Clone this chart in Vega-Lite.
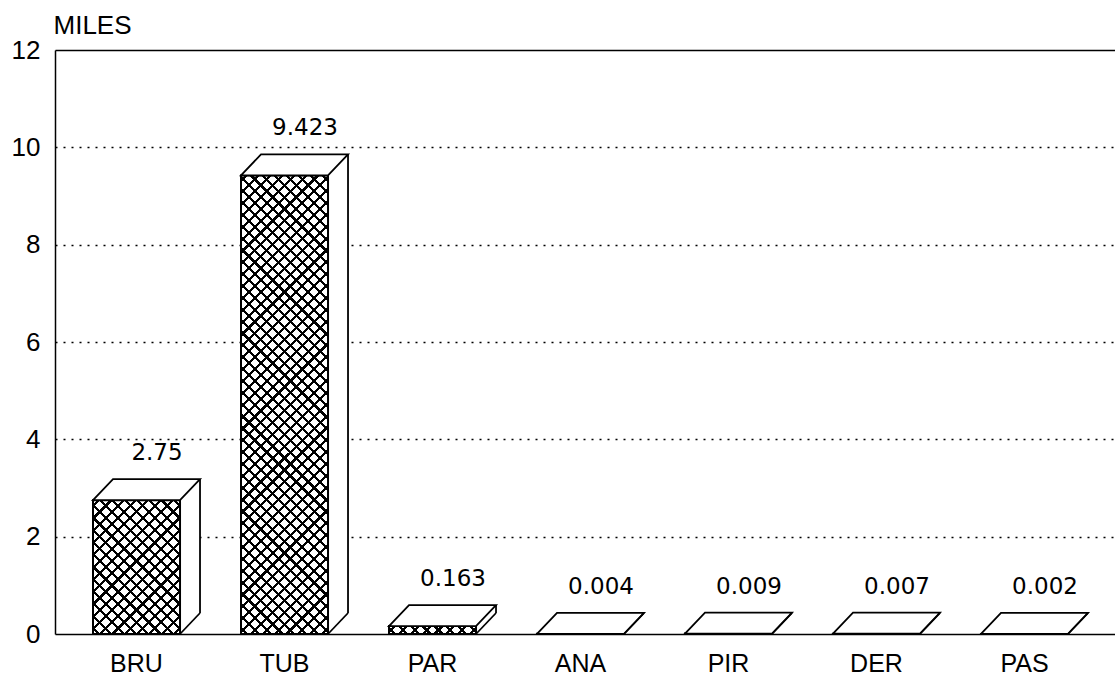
{
"$schema": "https://vega.github.io/schema/vega-lite/v6.json",
"width": 1060, "height": 584,
"autosize": {"type": "none"},
"padding": {"left": 55, "top": 50, "right": 0, "bottom": 45},
"background": "white",
"config": {"view": {"stroke": null}},
"data": {"values": [
{"cat": "BRU", "value": 2.75},
{"cat": "TUB", "value": 9.423},
{"cat": "PAR", "value": 0.163},
{"cat": "ANA", "value": 0.004},
{"cat": "PIR", "value": 0.009},
{"cat": "DER", "value": 0.007},
{"cat": "PAS", "value": 0.002}
]},
"encoding": {
"x": {"field": "cat", "type": "nominal", "title": null,
 "scale": {"domain": ["BRU","TUB","PAR","ANA","PIR","DER","PAS"], "paddingInner": 0.412, "paddingOuter": 0.2871, "align": 0.4472, "round": false},
 "axis": {"title": null, "labelFont": "Liberation Sans", "labelFontSize": 25, "labelColor": "black", "labelPadding": 37, "labelBaseline": "alphabetic", "ticks": false, "domain": false, "labelAngle": 0}},
"y": {"field": "value", "type": "quantitative",
 "scale": {"domain": [0, 12], "nice": false, "zero": true},
 "axis": {"values": [0,2,4,6,8,10,12], "title": "MILES", "titleAngle": 0, "titleAlign": "left", "titleBaseline": "alphabetic", "titleX": -2, "titleY": -17, "titleFont": "Liberation Sans", "titleFontSize": 26, "titleFontWeight": "normal", "titleColor": "black",
  "labelFont": "Liberation Sans", "labelFontSize": 26, "labelColor": "black", "labelPadding": 15, "ticks": false,
  "domain": true, "domainColor": "black", "domainWidth": 1.5,
  "grid": true, "gridColor": "black", "gridWidth": 1.5,
  "gridDash": {"condition": {"test": "datum.value === 0 || datum.value === 12", "value": []}, "value": [2, 6]}}}
},
"layer": [
{"mark": {"type": "bar", "width": 20, "xOffset": 53.5, "yOffset": -21, "fill": "white"}},
{"mark": {"type": "bar", "fill": "white", "stroke": "black", "strokeWidth": 1.5}},
{"transform": [{"filter": "datum.cat === 'BRU'"}],
 "mark": {"type": "bar", "fill": {"gradient": "linear", "x1": 0, "y1": 0, "x2": 0.754, "y2": 1.1599, "stops": [
{"offset":0.0206,"color":"#fff"},{"offset":0.0206,"color":"#000"},{"offset":0.0350,"color":"#000"},{"offset":0.0350,"color":"#fff"},
{"offset":0.0761,"color":"#fff"},{"offset":0.0761,"color":"#000"},{"offset":0.0905,"color":"#000"},{"offset":0.0905,"color":"#fff"},
{"offset":0.1317,"color":"#fff"},{"offset":0.1317,"color":"#000"},{"offset":0.1461,"color":"#000"},{"offset":0.1461,"color":"#fff"},
{"offset":0.1872,"color":"#fff"},{"offset":0.1872,"color":"#000"},{"offset":0.2016,"color":"#000"},{"offset":0.2016,"color":"#fff"},
{"offset":0.2428,"color":"#fff"},{"offset":0.2428,"color":"#000"},{"offset":0.2572,"color":"#000"},{"offset":0.2572,"color":"#fff"},
{"offset":0.2984,"color":"#fff"},{"offset":0.2984,"color":"#000"},{"offset":0.3128,"color":"#000"},{"offset":0.3128,"color":"#fff"},
{"offset":0.3539,"color":"#fff"},{"offset":0.3539,"color":"#000"},{"offset":0.3683,"color":"#000"},{"offset":0.3683,"color":"#fff"},
{"offset":0.4095,"color":"#fff"},{"offset":0.4095,"color":"#000"},{"offset":0.4239,"color":"#000"},{"offset":0.4239,"color":"#fff"},
{"offset":0.4650,"color":"#fff"},{"offset":0.4650,"color":"#000"},{"offset":0.4794,"color":"#000"},{"offset":0.4794,"color":"#fff"},
{"offset":0.5206,"color":"#fff"},{"offset":0.5206,"color":"#000"},{"offset":0.5350,"color":"#000"},{"offset":0.5350,"color":"#fff"},
{"offset":0.5761,"color":"#fff"},{"offset":0.5761,"color":"#000"},{"offset":0.5905,"color":"#000"},{"offset":0.5905,"color":"#fff"},
{"offset":0.6317,"color":"#fff"},{"offset":0.6317,"color":"#000"},{"offset":0.6461,"color":"#000"},{"offset":0.6461,"color":"#fff"},
{"offset":0.6872,"color":"#fff"},{"offset":0.6872,"color":"#000"},{"offset":0.7016,"color":"#000"},{"offset":0.7016,"color":"#fff"},
{"offset":0.7428,"color":"#fff"},{"offset":0.7428,"color":"#000"},{"offset":0.7572,"color":"#000"},{"offset":0.7572,"color":"#fff"},
{"offset":0.7984,"color":"#fff"},{"offset":0.7984,"color":"#000"},{"offset":0.8128,"color":"#000"},{"offset":0.8128,"color":"#fff"},
{"offset":0.8539,"color":"#fff"},{"offset":0.8539,"color":"#000"},{"offset":0.8683,"color":"#000"},{"offset":0.8683,"color":"#fff"},
{"offset":0.9095,"color":"#fff"},{"offset":0.9095,"color":"#000"},{"offset":0.9239,"color":"#000"},{"offset":0.9239,"color":"#fff"},
{"offset":0.9650,"color":"#fff"},{"offset":0.9650,"color":"#000"},{"offset":0.9794,"color":"#000"},{"offset":0.9794,"color":"#fff"}
]}}},
{"transform": [{"filter": "datum.cat === 'BRU'"}],
 "mark": {"type": "bar", "fill": {"gradient": "linear", "x1": 0, "y1": 1, "x2": 0.754, "y2": -0.1599, "stops": [
{"offset":0.0206,"color":"rgba(0,0,0,0)"},{"offset":0.0206,"color":"#000"},{"offset":0.0350,"color":"#000"},{"offset":0.0350,"color":"rgba(0,0,0,0)"},
{"offset":0.0761,"color":"rgba(0,0,0,0)"},{"offset":0.0761,"color":"#000"},{"offset":0.0905,"color":"#000"},{"offset":0.0905,"color":"rgba(0,0,0,0)"},
{"offset":0.1317,"color":"rgba(0,0,0,0)"},{"offset":0.1317,"color":"#000"},{"offset":0.1461,"color":"#000"},{"offset":0.1461,"color":"rgba(0,0,0,0)"},
{"offset":0.1872,"color":"rgba(0,0,0,0)"},{"offset":0.1872,"color":"#000"},{"offset":0.2016,"color":"#000"},{"offset":0.2016,"color":"rgba(0,0,0,0)"},
{"offset":0.2428,"color":"rgba(0,0,0,0)"},{"offset":0.2428,"color":"#000"},{"offset":0.2572,"color":"#000"},{"offset":0.2572,"color":"rgba(0,0,0,0)"},
{"offset":0.2984,"color":"rgba(0,0,0,0)"},{"offset":0.2984,"color":"#000"},{"offset":0.3128,"color":"#000"},{"offset":0.3128,"color":"rgba(0,0,0,0)"},
{"offset":0.3539,"color":"rgba(0,0,0,0)"},{"offset":0.3539,"color":"#000"},{"offset":0.3683,"color":"#000"},{"offset":0.3683,"color":"rgba(0,0,0,0)"},
{"offset":0.4095,"color":"rgba(0,0,0,0)"},{"offset":0.4095,"color":"#000"},{"offset":0.4239,"color":"#000"},{"offset":0.4239,"color":"rgba(0,0,0,0)"},
{"offset":0.4650,"color":"rgba(0,0,0,0)"},{"offset":0.4650,"color":"#000"},{"offset":0.4794,"color":"#000"},{"offset":0.4794,"color":"rgba(0,0,0,0)"},
{"offset":0.5206,"color":"rgba(0,0,0,0)"},{"offset":0.5206,"color":"#000"},{"offset":0.5350,"color":"#000"},{"offset":0.5350,"color":"rgba(0,0,0,0)"},
{"offset":0.5761,"color":"rgba(0,0,0,0)"},{"offset":0.5761,"color":"#000"},{"offset":0.5905,"color":"#000"},{"offset":0.5905,"color":"rgba(0,0,0,0)"},
{"offset":0.6317,"color":"rgba(0,0,0,0)"},{"offset":0.6317,"color":"#000"},{"offset":0.6461,"color":"#000"},{"offset":0.6461,"color":"rgba(0,0,0,0)"},
{"offset":0.6872,"color":"rgba(0,0,0,0)"},{"offset":0.6872,"color":"#000"},{"offset":0.7016,"color":"#000"},{"offset":0.7016,"color":"rgba(0,0,0,0)"},
{"offset":0.7428,"color":"rgba(0,0,0,0)"},{"offset":0.7428,"color":"#000"},{"offset":0.7572,"color":"#000"},{"offset":0.7572,"color":"rgba(0,0,0,0)"},
{"offset":0.7984,"color":"rgba(0,0,0,0)"},{"offset":0.7984,"color":"#000"},{"offset":0.8128,"color":"#000"},{"offset":0.8128,"color":"rgba(0,0,0,0)"},
{"offset":0.8539,"color":"rgba(0,0,0,0)"},{"offset":0.8539,"color":"#000"},{"offset":0.8683,"color":"#000"},{"offset":0.8683,"color":"rgba(0,0,0,0)"},
{"offset":0.9095,"color":"rgba(0,0,0,0)"},{"offset":0.9095,"color":"#000"},{"offset":0.9239,"color":"#000"},{"offset":0.9239,"color":"rgba(0,0,0,0)"},
{"offset":0.9650,"color":"rgba(0,0,0,0)"},{"offset":0.9650,"color":"#000"},{"offset":0.9794,"color":"#000"},{"offset":0.9794,"color":"rgba(0,0,0,0)"}
]}}},
{"transform": [{"filter": "datum.cat === 'TUB'"}],
 "mark": {"type": "bar", "fill": {"gradient": "linear", "x1": 0, "y1": 0, "x2": 0.2179, "y2": 1.1484, "stops": [
{"offset":0.0080,"color":"#fff"},{"offset":0.0080,"color":"#000"},{"offset":0.0138,"color":"#000"},{"offset":0.0138,"color":"#fff"},
{"offset":0.0297,"color":"#fff"},{"offset":0.0297,"color":"#000"},{"offset":0.0355,"color":"#000"},{"offset":0.0355,"color":"#fff"},
{"offset":0.0514,"color":"#fff"},{"offset":0.0514,"color":"#000"},{"offset":0.0572,"color":"#000"},{"offset":0.0572,"color":"#fff"},
{"offset":0.0732,"color":"#fff"},{"offset":0.0732,"color":"#000"},{"offset":0.0790,"color":"#000"},{"offset":0.0790,"color":"#fff"},
{"offset":0.0949,"color":"#fff"},{"offset":0.0949,"color":"#000"},{"offset":0.1007,"color":"#000"},{"offset":0.1007,"color":"#fff"},
{"offset":0.1167,"color":"#fff"},{"offset":0.1167,"color":"#000"},{"offset":0.1225,"color":"#000"},{"offset":0.1225,"color":"#fff"},
{"offset":0.1384,"color":"#fff"},{"offset":0.1384,"color":"#000"},{"offset":0.1442,"color":"#000"},{"offset":0.1442,"color":"#fff"},
{"offset":0.1601,"color":"#fff"},{"offset":0.1601,"color":"#000"},{"offset":0.1659,"color":"#000"},{"offset":0.1659,"color":"#fff"},
{"offset":0.1819,"color":"#fff"},{"offset":0.1819,"color":"#000"},{"offset":0.1877,"color":"#000"},{"offset":0.1877,"color":"#fff"},
{"offset":0.2036,"color":"#fff"},{"offset":0.2036,"color":"#000"},{"offset":0.2094,"color":"#000"},{"offset":0.2094,"color":"#fff"},
{"offset":0.2254,"color":"#fff"},{"offset":0.2254,"color":"#000"},{"offset":0.2312,"color":"#000"},{"offset":0.2312,"color":"#fff"},
{"offset":0.2471,"color":"#fff"},{"offset":0.2471,"color":"#000"},{"offset":0.2529,"color":"#000"},{"offset":0.2529,"color":"#fff"},
{"offset":0.2688,"color":"#fff"},{"offset":0.2688,"color":"#000"},{"offset":0.2746,"color":"#000"},{"offset":0.2746,"color":"#fff"},
{"offset":0.2906,"color":"#fff"},{"offset":0.2906,"color":"#000"},{"offset":0.2964,"color":"#000"},{"offset":0.2964,"color":"#fff"},
{"offset":0.3123,"color":"#fff"},{"offset":0.3123,"color":"#000"},{"offset":0.3181,"color":"#000"},{"offset":0.3181,"color":"#fff"},
{"offset":0.3341,"color":"#fff"},{"offset":0.3341,"color":"#000"},{"offset":0.3399,"color":"#000"},{"offset":0.3399,"color":"#fff"},
{"offset":0.3558,"color":"#fff"},{"offset":0.3558,"color":"#000"},{"offset":0.3616,"color":"#000"},{"offset":0.3616,"color":"#fff"},
{"offset":0.3775,"color":"#fff"},{"offset":0.3775,"color":"#000"},{"offset":0.3833,"color":"#000"},{"offset":0.3833,"color":"#fff"},
{"offset":0.3993,"color":"#fff"},{"offset":0.3993,"color":"#000"},{"offset":0.4051,"color":"#000"},{"offset":0.4051,"color":"#fff"},
{"offset":0.4210,"color":"#fff"},{"offset":0.4210,"color":"#000"},{"offset":0.4268,"color":"#000"},{"offset":0.4268,"color":"#fff"},
{"offset":0.4428,"color":"#fff"},{"offset":0.4428,"color":"#000"},{"offset":0.4486,"color":"#000"},{"offset":0.4486,"color":"#fff"},
{"offset":0.4645,"color":"#fff"},{"offset":0.4645,"color":"#000"},{"offset":0.4703,"color":"#000"},{"offset":0.4703,"color":"#fff"},
{"offset":0.4862,"color":"#fff"},{"offset":0.4862,"color":"#000"},{"offset":0.4920,"color":"#000"},{"offset":0.4920,"color":"#fff"},
{"offset":0.5080,"color":"#fff"},{"offset":0.5080,"color":"#000"},{"offset":0.5138,"color":"#000"},{"offset":0.5138,"color":"#fff"},
{"offset":0.5297,"color":"#fff"},{"offset":0.5297,"color":"#000"},{"offset":0.5355,"color":"#000"},{"offset":0.5355,"color":"#fff"},
{"offset":0.5514,"color":"#fff"},{"offset":0.5514,"color":"#000"},{"offset":0.5572,"color":"#000"},{"offset":0.5572,"color":"#fff"},
{"offset":0.5732,"color":"#fff"},{"offset":0.5732,"color":"#000"},{"offset":0.5790,"color":"#000"},{"offset":0.5790,"color":"#fff"},
{"offset":0.5949,"color":"#fff"},{"offset":0.5949,"color":"#000"},{"offset":0.6007,"color":"#000"},{"offset":0.6007,"color":"#fff"},
{"offset":0.6167,"color":"#fff"},{"offset":0.6167,"color":"#000"},{"offset":0.6225,"color":"#000"},{"offset":0.6225,"color":"#fff"},
{"offset":0.6384,"color":"#fff"},{"offset":0.6384,"color":"#000"},{"offset":0.6442,"color":"#000"},{"offset":0.6442,"color":"#fff"},
{"offset":0.6601,"color":"#fff"},{"offset":0.6601,"color":"#000"},{"offset":0.6659,"color":"#000"},{"offset":0.6659,"color":"#fff"},
{"offset":0.6819,"color":"#fff"},{"offset":0.6819,"color":"#000"},{"offset":0.6877,"color":"#000"},{"offset":0.6877,"color":"#fff"},
{"offset":0.7036,"color":"#fff"},{"offset":0.7036,"color":"#000"},{"offset":0.7094,"color":"#000"},{"offset":0.7094,"color":"#fff"},
{"offset":0.7254,"color":"#fff"},{"offset":0.7254,"color":"#000"},{"offset":0.7312,"color":"#000"},{"offset":0.7312,"color":"#fff"},
{"offset":0.7471,"color":"#fff"},{"offset":0.7471,"color":"#000"},{"offset":0.7529,"color":"#000"},{"offset":0.7529,"color":"#fff"},
{"offset":0.7688,"color":"#fff"},{"offset":0.7688,"color":"#000"},{"offset":0.7746,"color":"#000"},{"offset":0.7746,"color":"#fff"},
{"offset":0.7906,"color":"#fff"},{"offset":0.7906,"color":"#000"},{"offset":0.7964,"color":"#000"},{"offset":0.7964,"color":"#fff"},
{"offset":0.8123,"color":"#fff"},{"offset":0.8123,"color":"#000"},{"offset":0.8181,"color":"#000"},{"offset":0.8181,"color":"#fff"},
{"offset":0.8341,"color":"#fff"},{"offset":0.8341,"color":"#000"},{"offset":0.8399,"color":"#000"},{"offset":0.8399,"color":"#fff"},
{"offset":0.8558,"color":"#fff"},{"offset":0.8558,"color":"#000"},{"offset":0.8616,"color":"#000"},{"offset":0.8616,"color":"#fff"},
{"offset":0.8775,"color":"#fff"},{"offset":0.8775,"color":"#000"},{"offset":0.8833,"color":"#000"},{"offset":0.8833,"color":"#fff"},
{"offset":0.8993,"color":"#fff"},{"offset":0.8993,"color":"#000"},{"offset":0.9051,"color":"#000"},{"offset":0.9051,"color":"#fff"},
{"offset":0.9210,"color":"#fff"},{"offset":0.9210,"color":"#000"},{"offset":0.9268,"color":"#000"},{"offset":0.9268,"color":"#fff"},
{"offset":0.9428,"color":"#fff"},{"offset":0.9428,"color":"#000"},{"offset":0.9486,"color":"#000"},{"offset":0.9486,"color":"#fff"},
{"offset":0.9645,"color":"#fff"},{"offset":0.9645,"color":"#000"},{"offset":0.9703,"color":"#000"},{"offset":0.9703,"color":"#fff"},
{"offset":0.9862,"color":"#fff"},{"offset":0.9862,"color":"#000"},{"offset":0.9920,"color":"#000"},{"offset":0.9920,"color":"#fff"}
]}}},
{"transform": [{"filter": "datum.cat === 'TUB'"}],
 "mark": {"type": "bar", "fill": {"gradient": "linear", "x1": 0, "y1": 1, "x2": 0.2179, "y2": -0.1484, "stops": [
{"offset":0.0080,"color":"rgba(0,0,0,0)"},{"offset":0.0080,"color":"#000"},{"offset":0.0138,"color":"#000"},{"offset":0.0138,"color":"rgba(0,0,0,0)"},
{"offset":0.0297,"color":"rgba(0,0,0,0)"},{"offset":0.0297,"color":"#000"},{"offset":0.0355,"color":"#000"},{"offset":0.0355,"color":"rgba(0,0,0,0)"},
{"offset":0.0514,"color":"rgba(0,0,0,0)"},{"offset":0.0514,"color":"#000"},{"offset":0.0572,"color":"#000"},{"offset":0.0572,"color":"rgba(0,0,0,0)"},
{"offset":0.0732,"color":"rgba(0,0,0,0)"},{"offset":0.0732,"color":"#000"},{"offset":0.0790,"color":"#000"},{"offset":0.0790,"color":"rgba(0,0,0,0)"},
{"offset":0.0949,"color":"rgba(0,0,0,0)"},{"offset":0.0949,"color":"#000"},{"offset":0.1007,"color":"#000"},{"offset":0.1007,"color":"rgba(0,0,0,0)"},
{"offset":0.1167,"color":"rgba(0,0,0,0)"},{"offset":0.1167,"color":"#000"},{"offset":0.1225,"color":"#000"},{"offset":0.1225,"color":"rgba(0,0,0,0)"},
{"offset":0.1384,"color":"rgba(0,0,0,0)"},{"offset":0.1384,"color":"#000"},{"offset":0.1442,"color":"#000"},{"offset":0.1442,"color":"rgba(0,0,0,0)"},
{"offset":0.1601,"color":"rgba(0,0,0,0)"},{"offset":0.1601,"color":"#000"},{"offset":0.1659,"color":"#000"},{"offset":0.1659,"color":"rgba(0,0,0,0)"},
{"offset":0.1819,"color":"rgba(0,0,0,0)"},{"offset":0.1819,"color":"#000"},{"offset":0.1877,"color":"#000"},{"offset":0.1877,"color":"rgba(0,0,0,0)"},
{"offset":0.2036,"color":"rgba(0,0,0,0)"},{"offset":0.2036,"color":"#000"},{"offset":0.2094,"color":"#000"},{"offset":0.2094,"color":"rgba(0,0,0,0)"},
{"offset":0.2254,"color":"rgba(0,0,0,0)"},{"offset":0.2254,"color":"#000"},{"offset":0.2312,"color":"#000"},{"offset":0.2312,"color":"rgba(0,0,0,0)"},
{"offset":0.2471,"color":"rgba(0,0,0,0)"},{"offset":0.2471,"color":"#000"},{"offset":0.2529,"color":"#000"},{"offset":0.2529,"color":"rgba(0,0,0,0)"},
{"offset":0.2688,"color":"rgba(0,0,0,0)"},{"offset":0.2688,"color":"#000"},{"offset":0.2746,"color":"#000"},{"offset":0.2746,"color":"rgba(0,0,0,0)"},
{"offset":0.2906,"color":"rgba(0,0,0,0)"},{"offset":0.2906,"color":"#000"},{"offset":0.2964,"color":"#000"},{"offset":0.2964,"color":"rgba(0,0,0,0)"},
{"offset":0.3123,"color":"rgba(0,0,0,0)"},{"offset":0.3123,"color":"#000"},{"offset":0.3181,"color":"#000"},{"offset":0.3181,"color":"rgba(0,0,0,0)"},
{"offset":0.3341,"color":"rgba(0,0,0,0)"},{"offset":0.3341,"color":"#000"},{"offset":0.3399,"color":"#000"},{"offset":0.3399,"color":"rgba(0,0,0,0)"},
{"offset":0.3558,"color":"rgba(0,0,0,0)"},{"offset":0.3558,"color":"#000"},{"offset":0.3616,"color":"#000"},{"offset":0.3616,"color":"rgba(0,0,0,0)"},
{"offset":0.3775,"color":"rgba(0,0,0,0)"},{"offset":0.3775,"color":"#000"},{"offset":0.3833,"color":"#000"},{"offset":0.3833,"color":"rgba(0,0,0,0)"},
{"offset":0.3993,"color":"rgba(0,0,0,0)"},{"offset":0.3993,"color":"#000"},{"offset":0.4051,"color":"#000"},{"offset":0.4051,"color":"rgba(0,0,0,0)"},
{"offset":0.4210,"color":"rgba(0,0,0,0)"},{"offset":0.4210,"color":"#000"},{"offset":0.4268,"color":"#000"},{"offset":0.4268,"color":"rgba(0,0,0,0)"},
{"offset":0.4428,"color":"rgba(0,0,0,0)"},{"offset":0.4428,"color":"#000"},{"offset":0.4486,"color":"#000"},{"offset":0.4486,"color":"rgba(0,0,0,0)"},
{"offset":0.4645,"color":"rgba(0,0,0,0)"},{"offset":0.4645,"color":"#000"},{"offset":0.4703,"color":"#000"},{"offset":0.4703,"color":"rgba(0,0,0,0)"},
{"offset":0.4862,"color":"rgba(0,0,0,0)"},{"offset":0.4862,"color":"#000"},{"offset":0.4920,"color":"#000"},{"offset":0.4920,"color":"rgba(0,0,0,0)"},
{"offset":0.5080,"color":"rgba(0,0,0,0)"},{"offset":0.5080,"color":"#000"},{"offset":0.5138,"color":"#000"},{"offset":0.5138,"color":"rgba(0,0,0,0)"},
{"offset":0.5297,"color":"rgba(0,0,0,0)"},{"offset":0.5297,"color":"#000"},{"offset":0.5355,"color":"#000"},{"offset":0.5355,"color":"rgba(0,0,0,0)"},
{"offset":0.5514,"color":"rgba(0,0,0,0)"},{"offset":0.5514,"color":"#000"},{"offset":0.5572,"color":"#000"},{"offset":0.5572,"color":"rgba(0,0,0,0)"},
{"offset":0.5732,"color":"rgba(0,0,0,0)"},{"offset":0.5732,"color":"#000"},{"offset":0.5790,"color":"#000"},{"offset":0.5790,"color":"rgba(0,0,0,0)"},
{"offset":0.5949,"color":"rgba(0,0,0,0)"},{"offset":0.5949,"color":"#000"},{"offset":0.6007,"color":"#000"},{"offset":0.6007,"color":"rgba(0,0,0,0)"},
{"offset":0.6167,"color":"rgba(0,0,0,0)"},{"offset":0.6167,"color":"#000"},{"offset":0.6225,"color":"#000"},{"offset":0.6225,"color":"rgba(0,0,0,0)"},
{"offset":0.6384,"color":"rgba(0,0,0,0)"},{"offset":0.6384,"color":"#000"},{"offset":0.6442,"color":"#000"},{"offset":0.6442,"color":"rgba(0,0,0,0)"},
{"offset":0.6601,"color":"rgba(0,0,0,0)"},{"offset":0.6601,"color":"#000"},{"offset":0.6659,"color":"#000"},{"offset":0.6659,"color":"rgba(0,0,0,0)"},
{"offset":0.6819,"color":"rgba(0,0,0,0)"},{"offset":0.6819,"color":"#000"},{"offset":0.6877,"color":"#000"},{"offset":0.6877,"color":"rgba(0,0,0,0)"},
{"offset":0.7036,"color":"rgba(0,0,0,0)"},{"offset":0.7036,"color":"#000"},{"offset":0.7094,"color":"#000"},{"offset":0.7094,"color":"rgba(0,0,0,0)"},
{"offset":0.7254,"color":"rgba(0,0,0,0)"},{"offset":0.7254,"color":"#000"},{"offset":0.7312,"color":"#000"},{"offset":0.7312,"color":"rgba(0,0,0,0)"},
{"offset":0.7471,"color":"rgba(0,0,0,0)"},{"offset":0.7471,"color":"#000"},{"offset":0.7529,"color":"#000"},{"offset":0.7529,"color":"rgba(0,0,0,0)"},
{"offset":0.7688,"color":"rgba(0,0,0,0)"},{"offset":0.7688,"color":"#000"},{"offset":0.7746,"color":"#000"},{"offset":0.7746,"color":"rgba(0,0,0,0)"},
{"offset":0.7906,"color":"rgba(0,0,0,0)"},{"offset":0.7906,"color":"#000"},{"offset":0.7964,"color":"#000"},{"offset":0.7964,"color":"rgba(0,0,0,0)"},
{"offset":0.8123,"color":"rgba(0,0,0,0)"},{"offset":0.8123,"color":"#000"},{"offset":0.8181,"color":"#000"},{"offset":0.8181,"color":"rgba(0,0,0,0)"},
{"offset":0.8341,"color":"rgba(0,0,0,0)"},{"offset":0.8341,"color":"#000"},{"offset":0.8399,"color":"#000"},{"offset":0.8399,"color":"rgba(0,0,0,0)"},
{"offset":0.8558,"color":"rgba(0,0,0,0)"},{"offset":0.8558,"color":"#000"},{"offset":0.8616,"color":"#000"},{"offset":0.8616,"color":"rgba(0,0,0,0)"},
{"offset":0.8775,"color":"rgba(0,0,0,0)"},{"offset":0.8775,"color":"#000"},{"offset":0.8833,"color":"#000"},{"offset":0.8833,"color":"rgba(0,0,0,0)"},
{"offset":0.8993,"color":"rgba(0,0,0,0)"},{"offset":0.8993,"color":"#000"},{"offset":0.9051,"color":"#000"},{"offset":0.9051,"color":"rgba(0,0,0,0)"},
{"offset":0.9210,"color":"rgba(0,0,0,0)"},{"offset":0.9210,"color":"#000"},{"offset":0.9268,"color":"#000"},{"offset":0.9268,"color":"rgba(0,0,0,0)"},
{"offset":0.9428,"color":"rgba(0,0,0,0)"},{"offset":0.9428,"color":"#000"},{"offset":0.9486,"color":"#000"},{"offset":0.9486,"color":"rgba(0,0,0,0)"},
{"offset":0.9645,"color":"rgba(0,0,0,0)"},{"offset":0.9645,"color":"#000"},{"offset":0.9703,"color":"#000"},{"offset":0.9703,"color":"rgba(0,0,0,0)"},
{"offset":0.9862,"color":"rgba(0,0,0,0)"},{"offset":0.9862,"color":"#000"},{"offset":0.9920,"color":"#000"},{"offset":0.9920,"color":"rgba(0,0,0,0)"}
]}}},
{"transform": [{"filter": "datum.cat === 'PAR'"}],
 "mark": {"type": "bar", "fill": {"gradient": "linear", "x1": 0, "y1": 0, "x2": 1.0822, "y2": 0.0986, "stops": [
{"offset":0.0456,"color":"#fff"},{"offset":0.0456,"color":"#000"},{"offset":0.0794,"color":"#000"},{"offset":0.0794,"color":"#fff"},
{"offset":0.1706,"color":"#fff"},{"offset":0.1706,"color":"#000"},{"offset":0.2044,"color":"#000"},{"offset":0.2044,"color":"#fff"},
{"offset":0.2956,"color":"#fff"},{"offset":0.2956,"color":"#000"},{"offset":0.3294,"color":"#000"},{"offset":0.3294,"color":"#fff"},
{"offset":0.4206,"color":"#fff"},{"offset":0.4206,"color":"#000"},{"offset":0.4544,"color":"#000"},{"offset":0.4544,"color":"#fff"},
{"offset":0.5456,"color":"#fff"},{"offset":0.5456,"color":"#000"},{"offset":0.5794,"color":"#000"},{"offset":0.5794,"color":"#fff"},
{"offset":0.6706,"color":"#fff"},{"offset":0.6706,"color":"#000"},{"offset":0.7044,"color":"#000"},{"offset":0.7044,"color":"#fff"},
{"offset":0.7956,"color":"#fff"},{"offset":0.7956,"color":"#000"},{"offset":0.8294,"color":"#000"},{"offset":0.8294,"color":"#fff"},
{"offset":0.9206,"color":"#fff"},{"offset":0.9206,"color":"#000"},{"offset":0.9544,"color":"#000"},{"offset":0.9544,"color":"#fff"}
]}}},
{"transform": [{"filter": "datum.cat === 'PAR'"}],
 "mark": {"type": "bar", "fill": {"gradient": "linear", "x1": 0, "y1": 1, "x2": 1.0822, "y2": 0.9014, "stops": [
{"offset":0.0456,"color":"rgba(0,0,0,0)"},{"offset":0.0456,"color":"#000"},{"offset":0.0794,"color":"#000"},{"offset":0.0794,"color":"rgba(0,0,0,0)"},
{"offset":0.1706,"color":"rgba(0,0,0,0)"},{"offset":0.1706,"color":"#000"},{"offset":0.2044,"color":"#000"},{"offset":0.2044,"color":"rgba(0,0,0,0)"},
{"offset":0.2956,"color":"rgba(0,0,0,0)"},{"offset":0.2956,"color":"#000"},{"offset":0.3294,"color":"#000"},{"offset":0.3294,"color":"rgba(0,0,0,0)"},
{"offset":0.4206,"color":"rgba(0,0,0,0)"},{"offset":0.4206,"color":"#000"},{"offset":0.4544,"color":"#000"},{"offset":0.4544,"color":"rgba(0,0,0,0)"},
{"offset":0.5456,"color":"rgba(0,0,0,0)"},{"offset":0.5456,"color":"#000"},{"offset":0.5794,"color":"#000"},{"offset":0.5794,"color":"rgba(0,0,0,0)"},
{"offset":0.6706,"color":"rgba(0,0,0,0)"},{"offset":0.6706,"color":"#000"},{"offset":0.7044,"color":"#000"},{"offset":0.7044,"color":"rgba(0,0,0,0)"},
{"offset":0.7956,"color":"rgba(0,0,0,0)"},{"offset":0.7956,"color":"#000"},{"offset":0.8294,"color":"#000"},{"offset":0.8294,"color":"rgba(0,0,0,0)"},
{"offset":0.9206,"color":"rgba(0,0,0,0)"},{"offset":0.9206,"color":"#000"},{"offset":0.9544,"color":"#000"},{"offset":0.9544,"color":"rgba(0,0,0,0)"}
]}}},
{"mark": {"type": "bar", "fill": "transparent", "stroke": "black", "strokeWidth": 2}},
{"mark": {"type": "point", "shape": "M -0.87 0 L 0.87 0 L 1.27 -0.42 L -0.47 -0.42 Z", "size": 10000, "filled": true, "fill": "white", "stroke": "black", "strokeWidth": 1.8, "opacity": 1}},
{"mark": {"type": "rule", "xOffset": 63.5, "yOffset": -21, "y2Offset": -21, "stroke": "black", "strokeWidth": 1.8},
 "encoding": {"y2": {"datum": 0}}},
{"mark": {"type": "point", "shape": "M 0.87 0 L 1.27 -0.42", "size": 10000, "filled": false, "stroke": "black", "strokeWidth": 1.8, "opacity": 1},
 "encoding": {"y": {"datum": 0}}},
{"mark": {"type": "text", "font": "DejaVu Sans", "fontSize": 23, "color": "black", "align": "center", "baseline": "alphabetic", "dx": 20.5, "dy": -40},
 "encoding": {"text": {"field": "value", "type": "quantitative"}}}
]
}
